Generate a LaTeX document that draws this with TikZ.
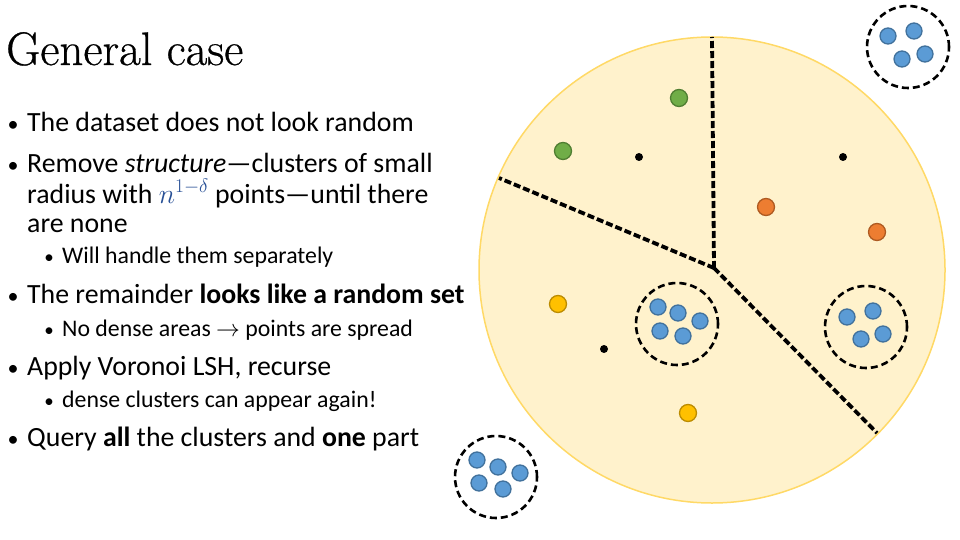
\RequirePackage{fix-cm}
\documentclass[tikz,border=0pt]{standalone}
\usepackage{fontspec}
\newfontfamily\bodyfont{Carlito}
\newfontfamily\titlefont[FakeBold=0.6]{Latin Modern Roman}
\definecolor{cellfill}{RGB}{255,242,204}
\definecolor{celledge}{RGB}{255,217,102}
\definecolor{bluefill}{RGB}{91,155,213}
\definecolor{blueedge}{RGB}{65,113,156}
\definecolor{greenfill}{RGB}{112,173,71}
\definecolor{greenedge}{RGB}{80,126,50}
\definecolor{orangefill}{RGB}{237,125,49}
\definecolor{orangeedge}{RGB}{174,90,33}
\definecolor{goldfill}{RGB}{255,192,0}
\definecolor{goldedge}{RGB}{188,140,0}
\definecolor{mathblue}{RGB}{40,80,150}
\begin{document}
\begin{tikzpicture}[x=1pt,y=-1pt,
  txt/.style={anchor=base west, inner sep=0pt, font=\bodyfont\fontsize{27.8}{33}\selectfont},
  subtxt/.style={anchor=base west, inner sep=0pt, font=\bodyfont\fontsize{23.8}{28}\selectfont},
  bul/.style={anchor=base, inner sep=0pt, font=\bodyfont\fontsize{22}{26}\selectfont},
  subbul/.style={anchor=base, inner sep=0pt, font=\bodyfont\fontsize{19}{22}\selectfont},
  dot/.style={circle, inner sep=0pt, minimum size=17pt, line width=1.3pt},
  bluedot/.style={dot, minimum size=16pt, fill=bluefill, draw=blueedge},
  greendot/.style={dot, fill=greenfill, draw=greenedge},
  orangedot/.style={dot, fill=orangefill, draw=orangeedge},
  golddot/.style={dot, fill=goldfill, draw=goldedge},
  seed/.style={circle, inner sep=0pt, minimum size=8pt, fill=black},
  clusterring/.style={circle, draw=black, line width=2.6pt, dash pattern=on 7pt off 4pt, inner sep=0pt, minimum size=82pt},
  border/.style={black, line width=3.8pt, dash pattern=on 7pt off 3pt}
]
\useasboundingbox (0,0) rectangle (960,540);

% title
\node[anchor=base west, inner sep=0pt, font=\titlefont\fontsize{47}{52}\selectfont] (title) at (6,65) {General case};

% bullets
\node[bul] (k1) at (13,132) {\textbullet};
\node[txt] (t1) at (27,132) {The dataset does not look random};
\node[bul] (k2) at (13,172) {\textbullet};
\node[txt] (t2) at (27,172) {Remove \textit{structure}—clusters of small};
\node[txt] (t3) at (27,203) {radius with \textcolor{mathblue}{$n^{1-\delta}$} points—until there};
\node[txt] (t4) at (27,232) {are none};
\node[subbul] (k5) at (49,263) {\textbullet};
\node[subtxt] (t5) at (62,263) {Will handle them separately};
\node[bul] (k6) at (13,303) {\textbullet};
\node[txt] (t6) at (27,303) {The remainder \textbf{looks like a random set}};
\node[subbul] (k7) at (49,336) {\textbullet};
\node[subtxt] (t7) at (62,336) {No dense areas $\rightarrow$ points are spread};
\node[bul] (k8) at (13,375) {\textbullet};
\node[txt] (t8) at (27,375) {Apply Voronoi LSH, recurse};
\node[subbul] (k9) at (49,407) {\textbullet};
\node[subtxt] (t9) at (62,407) {dense clusters can appear again!};
\node[bul] (k10) at (13,446) {\textbullet};
\node[txt] (t10) at (27,446) {Query \textbf{all} the clusters and \textbf{one} part};

% big disc
\node[circle, minimum size=466pt, inner sep=0pt, fill=cellfill, draw=celledge, line width=1.5pt] (disc) at (712,270) {};

% voronoi borders
\coordinate (vc) at (714,268);
\coordinate (vt) at (712,37);
\coordinate (vl) at (499,178);
\coordinate (vr) at (877,433);
\draw[border] (vc) -- (vt);
\draw[border] (vc) -- (vl);
\draw[border] (vc) -- (vr);

% seeds
\node[seed] (s1) at (639,157) {};
\node[seed] (s2) at (843,157) {};
\node[seed] (s3) at (604,349) {};

% coloured points
\node[greendot] (g1) at (679,98) {};
\node[greendot] (g2) at (563,151) {};
\node[orangedot] (o1) at (766,207) {};
\node[orangedot] (o2) at (877,232) {};
\node[golddot] (y1) at (558,304) {};
\node[golddot] (y2) at (688,413) {};

% clusters
\node[clusterring] (c1) at (908,47) {};
\node[bluedot] (c1a) at (888,36) {};
\node[bluedot] (c1b) at (914,31) {};
\node[bluedot] (c1c) at (902,59) {};
\node[bluedot] (c1d) at (925,54) {};

\node[clusterring] (c2) at (677,324) {};
\node[bluedot] (c2a) at (658,307) {};
\node[bluedot] (c2b) at (678,313) {};
\node[bluedot] (c2c) at (700,321) {};
\node[bluedot] (c2d) at (660,331) {};
\node[bluedot] (c2e) at (683,336) {};

\node[clusterring] (c3) at (866,327) {};
\node[bluedot] (c3a) at (847,317) {};
\node[bluedot] (c3b) at (873,311) {};
\node[bluedot] (c3c) at (861,339) {};
\node[bluedot] (c3d) at (883,334) {};

\node[clusterring] (c4) at (496,477) {};
\node[bluedot] (c4a) at (477,460) {};
\node[bluedot] (c4b) at (498,467) {};
\node[bluedot] (c4c) at (520,473) {};
\node[bluedot] (c4d) at (479,483) {};
\node[bluedot] (c4e) at (503,489) {};
\end{tikzpicture}
\end{document}
